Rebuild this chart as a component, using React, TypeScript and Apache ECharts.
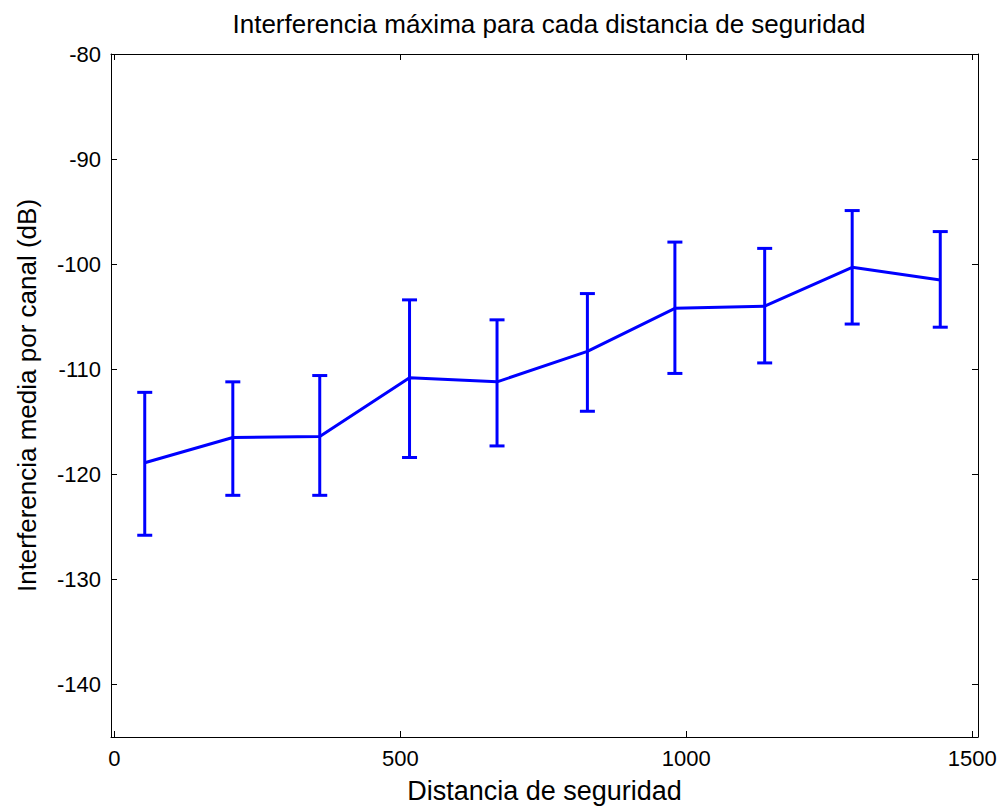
import React, { useEffect, useRef } from "react";
import * as echarts from "echarts";

const titleText = "Interferencia máxima para cada distancia de seguridad";
const xName = "Distancia de seguridad";
const yName = "Interferencia media por canal (dB)";

const distances = [53, 207, 359, 516, 669, 827, 980, 1137, 1290, 1444];
const means = [-118.9, -116.5, -116.4, -110.8, -111.2, -108.3, -104.2, -104.0, -100.3, -101.5];
const upper = [-112.2, -111.2, -110.6, -103.4, -105.3, -102.8, -97.9, -98.5, -94.9, -96.9];
const lower = [-125.8, -122.0, -122.0, -118.4, -117.3, -114.0, -110.4, -109.4, -105.7, -106.0];

const xTicks = [0, 500, 1000, 1500];
const yTicks = [-140, -130, -120, -110, -100, -90, -80];

const FONT = "'Liberation Sans', Arial, Helvetica, sans-serif";
const BLUE = "#0000ff";

export default function App() {
  const ref = useRef<HTMLDivElement>(null);

  useEffect(() => {
    if (!ref.current) return;
    const chart = echarts.init(ref.current, undefined, { renderer: "svg" });

    const lineData = distances.map((d, i) => [d, means[i]]);
    const errData = distances.map((d, i) => [d, lower[i], upper[i]]);

    const baseX = {
      type: "value" as const,
      min: -6,
      max: 1510,
      splitLine: { show: false },
      axisLine: { show: true, onZero: false, lineStyle: { color: "#000", width: 1 } },
    };
    const baseY = {
      type: "value" as const,
      min: -145,
      max: -80,
      splitLine: { show: false },
      axisLine: { show: true, onZero: false, lineStyle: { color: "#000", width: 1 } },
    };

    chart.setOption({
      animation: false,
      backgroundColor: "#fff",
      title: {
        text: titleText,
        left: 544,
        textAlign: "center",
        top: 6,
        textStyle: { fontFamily: FONT, fontSize: 26, fontWeight: "normal", color: "#000" },
      },
      grid: { left: 111, right: 25, top: 54, bottom: 72, containLabel: false },
      xAxis: [
        {
          ...baseX,
          position: "bottom",
          name: xName,
          nameLocation: "middle",
          nameGap: 40,
          nameTextStyle: { fontFamily: FONT, fontSize: 27, color: "#000" },
          axisTick: { show: true, inside: true, length: 6, customValues: xTicks, lineStyle: { color: "#000" } },
          axisLabel: {
            show: true,
            customValues: xTicks,
            margin: 10,
            fontFamily: FONT,
            fontSize: 22,
            color: "#000",
            formatter: (v: number) => String(v),
          },
        },
        {
          ...baseX,
          position: "top",
          axisTick: { show: true, inside: true, length: 6, customValues: xTicks, lineStyle: { color: "#000" } },
          axisLabel: { show: false },
        },
      ],
      yAxis: [
        {
          ...baseY,
          position: "left",
          name: yName,
          nameLocation: "middle",
          nameGap: 71,
          nameTextStyle: { fontFamily: FONT, fontSize: 26, color: "#000" },
          axisTick: { show: true, inside: true, length: 6, customValues: yTicks, lineStyle: { color: "#000" } },
          axisLabel: {
            show: true,
            customValues: yTicks,
            margin: 10,
            fontFamily: FONT,
            fontSize: 22,
            color: "#000",
            formatter: (v: number) => String(v),
          },
        },
        {
          ...baseY,
          position: "right",
          axisTick: { show: true, inside: true, length: 6, customValues: yTicks, lineStyle: { color: "#000" } },
          axisLabel: { show: false },
        },
      ],
      series: [
        {
          type: "custom",
          xAxisIndex: 0,
          yAxisIndex: 0,
          data: errData,
          encode: { x: 0, y: [1, 2] },
          renderItem: (params: any, api: any) => {
            const x = api.value(0);
            const lo = api.coord([x, api.value(1)]);
            const hi = api.coord([x, api.value(2)]);
            const w = 7.5;
            const style = { stroke: BLUE, lineWidth: 3, fill: "none" };
            return {
              type: "group",
              children: [
                { type: "line", shape: { x1: lo[0], y1: lo[1], x2: hi[0], y2: hi[1] }, style },
                { type: "line", shape: { x1: hi[0] - w, y1: hi[1], x2: hi[0] + w, y2: hi[1] }, style },
                { type: "line", shape: { x1: lo[0] - w, y1: lo[1], x2: lo[0] + w, y2: lo[1] }, style },
              ],
            };
          },
          z: 2,
        },
        {
          type: "line",
          xAxisIndex: 0,
          yAxisIndex: 0,
          data: lineData,
          showSymbol: false,
          symbol: "none",
          lineStyle: { color: BLUE, width: 3 },
          itemStyle: { color: BLUE },
          z: 3,
        },
      ],
    });

    return () => chart.dispose();
  }, []);

  return (
    <div
      ref={ref}
      style={{ position: "fixed", left: 0, top: 0, width: 1003, height: 809, background: "#fff" }}
    />
  );
}
